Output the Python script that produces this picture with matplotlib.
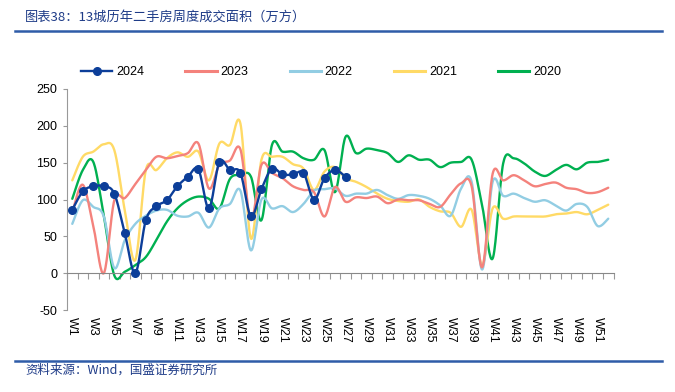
import numpy as np
import matplotlib
matplotlib.use("Agg")
import matplotlib.pyplot as plt
from matplotlib.lines import Line2D

plt.rcParams['font.family'] = ['Liberation Sans', 'Noto Sans CJK SC', 'DejaVu Sans']
plt.rcParams['axes.unicode_minus'] = False

weeks = [f"W{i}" for i in range(1, 53)]

v2024 = [86, 111, 118, 118, 108, 54, 0, 72, 91, 99, 118, 131, 141, 88, 151, 140,
         136, 77, 114, 142, 134, 134, 136, 100, 129, 140, 131]
v2023 = [83, 120, 64, 0, 99, 102, 121, 140, 158, 156, 159, 163, 176, 115, 147, 153,
         168, 72, 147, 136, 129, 118, 113, 110, 77, 117, 97, 103, 102, 104, 95, 100,
         99, 99, 94, 90, 107, 122, 118, 8, 135, 126, 133, 126, 118, 121, 123, 116,
         114, 109, 110, 116]
v2022 = [67, 99, 90, 77, 7, 45, 67, 78, 85, 86, 78, 77, 82, 62, 88, 94,
         112, 31, 100, 88, 91, 83, 94, 112, 114, 115, 105, 108, 108, 113, 106, 101,
         106, 105, 101, 92, 78, 115, 124, 5, 124, 105, 108, 102, 97, 99, 92, 85,
         94, 90, 64, 74]
v2021 = [126, 158, 165, 175, 167, 85, 18, 140, 140, 156, 164, 158, 165, 126, 176, 174,
         203, 47, 154, 158, 158, 148, 142, 113, 138, 144, 129, 124, 117, 108, 101, 98,
         97, 100, 90, 84, 82, 63, 86, 11, 88, 74, 77, 77, 77, 77, 80, 81,
         83, 80, 86, 93]
v2020 = [101, 140, 151, 78, -3, 2, 11, 22, 45, 70, 88, 99, 104, 101, 88, 128,
         133, 131, 72, 174, 165, 165, 156, 154, 167, 110, 185, 163, 169, 167, 163, 151,
         160, 154, 154, 144, 150, 151, 154, 92, 20, 149, 156, 149, 138, 132, 140, 147,
         141, 150, 151, 154]

series = [
    ("2024", v2024, "#0C3E99"),
    ("2023", v2023, "#F4827C"),
    ("2022", v2022, "#92CDE3"),
    ("2021", v2021, "#FFDA66"),
    ("2020", v2020, "#00B050"),
]


def smooth(xs, ys, n=20):
    # Excel-like smoothed line: cubic bezier with catmull-rom control points
    xs = np.asarray(xs, float)
    ys = np.asarray(ys, float)
    px = np.concatenate([[xs[0]], xs, [xs[-1]]])
    py = np.concatenate([[ys[0]], ys, [ys[-1]]])
    t = np.linspace(0, 1, n)[:, None]
    outx, outy = [xs[0]], [ys[0]]
    for i in range(1, len(xs)):
        p0 = np.array([px[i], py[i]])
        p3 = np.array([px[i + 1], py[i + 1]])
        c1 = p0 + (p3 - np.array([px[i - 1], py[i - 1]])) / 6
        c2 = p3 - (np.array([px[i + 2], py[i + 2]]) - p0) / 6
        b = ((1 - t) ** 3) * p0 + 3 * ((1 - t) ** 2) * t * c1 + 3 * (1 - t) * t ** 2 * c2 + t ** 3 * p3
        outx.extend(b[1:, 0])
        outy.extend(b[1:, 1])
    return np.array(outx), np.array(outy)


fig = plt.figure(figsize=(6.75, 3.92), dpi=100)
ax = fig.add_axes([0.0993, 0.209, 0.8096, 0.564])

x = np.arange(1, 53)
for name, vals, c in reversed(series):
    xx = x[:len(vals)]
    sx, sy = smooth(xx, vals)
    ax.plot(sx, sy, color=c, lw=1.7, solid_capstyle="round", zorder=3 if name == "2024" else 2)
    if name == "2024":
        ax.plot(xx, vals, "o", color=c, ms=5.5, zorder=4)

ax.set_xlim(0.5, 52.5)
ax.set_ylim(-50, 250)
ax.set_yticks(range(-50, 251, 50))
ax.tick_params(axis="y", length=3, color="#999999", labelsize=9, pad=4)

for s in ["top", "right"]:
    ax.spines[s].set_visible(False)
ax.spines["left"].set_color("#999999")
ax.spines["bottom"].set_position(("data", 0))
ax.spines["bottom"].set_color("#888888")
ax.set_xticks(np.arange(0.5, 53, 1))
ax.set_xticklabels([])
ax.tick_params(axis="x", length=4, color="#999999", direction="out")

sec = ax.secondary_xaxis("bottom")
sec.set_xticks(x[::2], weeks[::2])
sec.tick_params(length=0, labelsize=9, rotation=270, pad=5)
sec.spines["bottom"].set_visible(False)

handles = []
for name, vals, c in series:
    if name == "2024":
        handles.append(Line2D([], [], color=c, lw=1.7, marker="o", ms=5.5))
    else:
        handles.append(Line2D([], [], color=c, lw=2.2))
ax.legend(handles, [s[0] for s in series], ncol=5, frameon=False,
          loc="center", bbox_to_anchor=(0.465, 1.077), fontsize=9,
          handlelength=2.5, handletextpad=0.3, columnspacing=3.3)

cjk = ['Noto Sans CJK SC', 'DejaVu Sans']
fig.text(0.037, 0.955, "图表38：13城历年二手房周度成交面积（万方）", family=cjk,
         fontsize=9.5, color="#1F3C88", va="center", ha="left", style="italic")
fig.add_artist(Line2D([0.022, 0.98], [0.92, 0.92], color="#2F5CA8", lw=1.8))
fig.add_artist(Line2D([0.022, 0.98], [0.079, 0.079], color="#2F5CA8", lw=1.8))
fig.text(0.037, 0.056, "资料来源：Wind，国盛证券研究所", family=cjk,
         fontsize=9, color="#1F3C88", va="center", ha="left", style="italic")

fig.savefig("out.png", dpi=100)
